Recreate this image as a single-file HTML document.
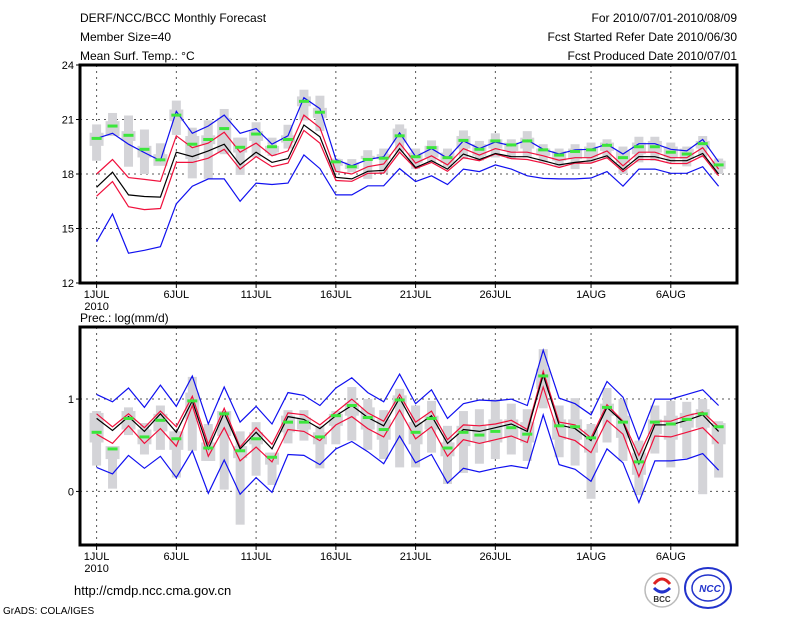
<!DOCTYPE html>
<html><head><meta charset="utf-8">
<style>
html,body{margin:0;padding:0;background:#fff;}
svg{display:block;font-family:"Liberation Sans",sans-serif;}
</style></head>
<body>
<svg id="chart" width="800" height="618" viewBox="0 0 800 618" xmlns="http://www.w3.org/2000/svg">
<rect x="0" y="0" width="800" height="618" fill="#fff"/>
<g font-size="12" fill="#000">
<text x="80" y="22">DERF/NCC/BCC Monthly Forecast</text>
<text x="80" y="41">Member Size=40</text>
<text x="80" y="60">Mean Surf. Temp.: °C</text>
<text x="737" y="22" text-anchor="end">For 2010/07/01-2010/08/09</text>
<text x="737" y="41" text-anchor="end">Fcst Started Refer Date 2010/06/30</text>
<text x="737" y="60" text-anchor="end">Fcst Produced Date 2010/07/01</text>
<text x="80" y="322">Prec.: log(mm/d)</text>
<text x="74" y="595" font-size="13">http://cmdp.ncc.cma.gov.cn</text>
<text x="3" y="614" font-size="10">GrADS: COLA/IGES</text>
</g>
<g>
<circle cx="662" cy="590" r="17" fill="#fff" stroke="#bbb" stroke-width="1.5"/>
<path d="M654 584 q8 -10 16 0" fill="none" stroke="#d22" stroke-width="3"/>
<path d="M654 588 q8 8 16 0" fill="none" stroke="#23c" stroke-width="3"/>
<text x="662" y="602" font-size="8" font-weight="bold" text-anchor="middle" fill="#333">BCC</text>
</g>
<g>
<ellipse cx="708" cy="588" rx="23" ry="20" fill="#fff" stroke="#23c" stroke-width="2"/>
<ellipse cx="708" cy="588" rx="16" ry="13" fill="none" stroke="#23c" stroke-width="1.5"/>
<text x="710" y="592" font-size="10" font-weight="bold" font-style="italic" text-anchor="middle" fill="#23c">NCC</text>
</g>
<g id="plots"></g>
</svg>
<script>
// ---- temperature panel data (deg C), day 0 = 1 JUL ----
const tBlueHi=[19.96,20.24,19.64,19.18,18.73,21.45,20.24,20.64,21.24,20.24,20.5,19.64,20.1,22.2,21.6,18.8,18.45,18.8,18.95,20.27,18.96,19.4,18.87,19.82,19.4,19.76,19.55,19.87,19.36,19.1,19.33,19.36,19.64,19.1,19.67,19.67,19.36,19.27,19.9,18.67];
const tRedHi=[18.0,18.8,17.8,17.7,17.6,20.1,19.45,19.7,20.3,19.2,19.7,19.0,19.27,21.24,20.55,18.15,18.0,18.4,18.55,19.7,18.6,19.0,18.5,19.4,19.04,19.4,19.2,19.2,19.0,18.76,18.9,18.9,19.27,18.45,19.2,19.2,18.9,18.9,19.45,18.27];
const tMean=[17.27,18.1,16.85,16.76,16.73,19.2,18.96,19.27,19.64,18.5,19.2,18.64,18.85,20.7,20.05,17.82,17.73,18.15,18.2,19.4,18.36,18.73,18.27,19.1,18.8,19.13,18.96,18.95,18.73,18.5,18.64,18.73,19.0,18.24,18.96,18.95,18.73,18.73,19.13,18.0];
const tRedLo=[16.78,17.58,16.2,16.04,16.1,18.64,18.64,18.87,19.36,18.27,18.96,18.4,18.6,20.4,19.7,17.64,17.6,18.04,18.05,19.2,18.3,18.64,18.15,18.9,18.73,19.1,18.85,18.8,18.6,18.36,18.6,18.6,18.9,18.13,18.8,18.8,18.58,18.58,19.0,17.9];
const tBlueLo=[14.27,15.8,13.64,13.8,14.0,16.36,17.33,17.73,17.73,16.5,17.5,17.42,17.5,19.05,18.3,16.85,16.85,17.35,17.35,18.3,17.58,17.9,17.42,18.27,18.13,18.5,18.27,17.9,17.76,17.73,17.73,17.78,18.13,17.33,18.27,18.27,18.04,18.04,18.4,17.33];
const tObs=[19.96,20.64,20.13,19.36,18.78,21.24,19.64,19.9,20.5,19.47,20.2,19.5,19.9,22.0,21.4,18.67,18.4,18.8,18.87,20.1,18.95,19.45,18.9,19.85,19.36,19.82,19.6,19.82,19.33,19.04,19.24,19.33,19.58,18.9,19.5,19.5,19.2,19.1,19.67,18.5];
const tMax=[20.73,21.36,21.22,20.45,19.69,22.04,20.55,20.96,21.58,20.0,20.85,20.0,20.71,22.64,22.31,18.85,18.82,19.31,19.4,20.73,19.4,19.85,19.4,20.4,19.82,20.24,19.91,20.36,19.64,19.4,19.64,19.73,19.91,19.51,20.05,20.05,19.73,19.51,20.09,18.85];
const tMin=[18.73,20.13,18.4,18.0,18.49,20.15,17.76,17.73,19.09,17.95,18.91,19.0,19.4,20.95,20.36,18.09,18.09,17.73,18.04,19.18,18.27,18.64,18.36,18.82,18.73,18.91,18.82,18.91,18.64,18.42,18.27,18.64,18.82,18.0,18.64,18.73,18.64,18.42,18.91,18.0];
const tQ3=[20.27,20.91,20.36,19.55,19.09,21.55,20.09,20.13,21.09,20.0,20.36,19.55,20.13,22.27,21.64,18.82,18.64,19.0,19.09,20.5,19.18,19.55,19.18,20.09,19.64,19.91,19.73,20.0,19.4,19.27,19.4,19.51,19.73,19.27,19.73,19.82,19.51,19.4,19.82,18.73];
const tQ1=[19.55,20.09,19.82,18.91,18.45,20.91,18.82,19.64,19.18,19.18,19.82,19.18,19.73,21.73,21.09,18.45,18.27,18.82,18.82,19.73,18.6,18.91,18.6,19.4,19.0,19.4,19.27,19.4,19.0,18.73,18.82,18.91,19.27,18.6,19.09,19.18,18.91,18.82,19.4,18.27];
const tTicks=[12,15,18,21,24];
// ---- precipitation panel data (log mm/d) ----
const pBlueHi=[1.05,0.97,1.12,0.91,1.15,0.92,1.25,0.73,1.13,0.75,0.92,0.73,1.07,1.04,0.93,1.12,1.23,1.07,0.97,1.27,0.95,1.10,0.79,0.95,0.99,0.98,1.0,0.93,1.53,1.01,0.95,0.83,1.19,1.02,0.56,1.0,1.0,1.05,1.10,0.93];
const pRedHi=[0.84,0.70,0.84,0.69,0.87,0.70,1.03,0.51,0.90,0.48,0.69,0.51,0.85,0.83,0.72,0.86,1.0,0.85,0.76,1.05,0.75,0.87,0.56,0.72,0.71,0.73,0.77,0.67,1.30,0.75,0.72,0.58,0.94,0.76,0.39,0.76,0.76,0.82,0.86,0.70];
const pMean=[0.79,0.66,0.81,0.65,0.84,0.64,0.98,0.46,0.85,0.46,0.64,0.46,0.81,0.78,0.68,0.82,0.93,0.80,0.71,1.01,0.70,0.82,0.52,0.67,0.65,0.69,0.73,0.65,1.26,0.72,0.68,0.55,0.91,0.75,0.30,0.72,0.72,0.77,0.83,0.65];
const pRedLo=[0.62,0.52,0.71,0.52,0.68,0.49,0.93,0.38,0.69,0.33,0.48,0.32,0.67,0.65,0.55,0.72,0.81,0.68,0.59,0.88,0.57,0.70,0.38,0.56,0.52,0.56,0.60,0.53,1.13,0.60,0.55,0.42,0.77,0.62,0.16,0.60,0.59,0.64,0.69,0.52];
const pBlueLo=[0.26,0.19,0.39,0.25,0.38,0.15,0.44,-0.02,0.34,-0.03,0.15,-0.01,0.40,0.39,0.29,0.46,0.54,0.43,0.30,0.60,0.31,0.40,0.09,0.25,0.21,0.25,0.28,0.25,0.83,0.29,0.24,0.11,0.46,0.31,-0.12,0.33,0.33,0.35,0.41,0.23];
const pObs=[0.64,0.46,0.79,0.59,0.77,0.57,0.98,0.47,0.84,0.44,0.57,0.37,0.75,0.75,0.59,0.82,0.93,0.80,0.67,0.99,0.64,0.79,0.47,0.64,0.61,0.65,0.69,0.62,1.25,0.71,0.70,0.58,0.91,0.75,0.32,0.75,0.73,0.78,0.84,0.70];
const pMax=[0.87,0.49,0.91,0.74,0.93,0.65,1.24,0.73,0.87,0.65,0.75,0.42,0.88,0.88,0.71,0.87,1.13,1.0,0.88,1.11,0.93,0.98,0.71,0.87,0.89,1.0,0.95,0.89,1.54,0.93,1.01,0.73,1.12,1.0,0.55,0.93,0.98,0.97,1.0,0.76];
const pMin=[0.28,0.03,0.61,0.40,0.45,0.15,0.44,0.33,0.02,-0.36,0.17,0.07,0.52,0.55,0.25,0.51,0.55,0.45,0.35,0.26,0.26,0.42,0.08,0.20,0.30,0.35,0.40,0.33,0.90,0.37,0.28,-0.08,0.53,0.33,-0.04,0.41,0.26,0.36,-0.03,0.15];
const pQ3=[0.85,0.49,0.87,0.67,0.84,0.65,1.07,0.53,0.87,0.49,0.64,0.42,0.82,0.80,0.64,0.84,0.96,0.91,0.78,1.04,0.75,0.82,0.53,0.71,0.71,0.78,0.78,0.75,1.33,0.78,0.78,0.67,0.95,0.82,0.42,0.78,0.82,0.85,0.89,0.74];
const pQ1=[0.53,0.35,0.67,0.51,0.65,0.45,0.78,0.33,0.60,0.36,0.51,0.29,0.64,0.67,0.51,0.71,0.82,0.67,0.56,0.93,0.51,0.67,0.38,0.49,0.53,0.53,0.58,0.53,1.11,0.56,0.56,0.42,0.82,0.58,0.18,0.62,0.56,0.69,0.69,0.51];
const pTicks=[0,1];
const dateLabels=["1JUL","6JUL","11JUL","16JUL","21JUL","26JUL","1AUG","6AUG"];
const dateDays=[0,5,10,15,20,25,31,36];

const NS="http://www.w3.org/2000/svg";
const root=document.getElementById('plots');
const FX0=80,FX1=737;
const xDay=d=>96.6+d*15.95;
function mk(tag,attrs,parent){const e=document.createElementNS(NS,tag);for(const k in attrs)e.setAttribute(k,attrs[k]);(parent||root).appendChild(e);return e;}

function panel(name,top,bot,vTop,vBot,ticks,S){
  const yv=v=>top+(vTop-v)*(bot-top)/(vTop-vBot);
  const g=mk('g',{});
  
  
  // grid
  dateDays.forEach((d,i)=>{
    const l=mk('line',{x1:xDay(d),x2:xDay(d),y1:top,y2:bot,stroke:'#555','stroke-width':1,'stroke-dasharray':'2,4'},g);
    
    
    const tk=mk('line',{x1:xDay(d),x2:xDay(d),y1:bot,y2:bot+5,stroke:'#000'},g);
    
    
    const t=mk('text',{x:xDay(d),y:bot+15,'font-size':11,'text-anchor':'middle'},g);
    t.textContent=dateLabels[i];
    
    
  });
  const yr=mk('text',{x:xDay(0),y:bot+27,'font-size':11,'text-anchor':'middle'},g);
  yr.textContent='2010';
  
  
  ticks.forEach(v=>{
    const y=yv(v);
    if(y>top+2&&y<bot-2){
      const l=mk('line',{x1:FX0,x2:FX1,y1:y,y2:y,stroke:'#555','stroke-width':1,'stroke-dasharray':'2,4'},g);
      
      
    }
    const tk=mk('line',{x1:FX0-4,x2:FX0,y1:y,y2:y,stroke:'#000'},g);
    
    
    const t=mk('text',{x:FX0-6,y:y+4,'font-size':11,'text-anchor':'end'},g);
    t.textContent=String(v);
    
    
  });
  // boxes
  S.max.forEach((mx,d)=>{
    const x=xDay(d);
    const r1=mk('rect',{x:x-4.5,width:9,y:yv(mx),height:Math.max(1,yv(S.min[d])-yv(mx)),fill:'#d4d4d8'},g);
    
    
    const r2=mk('rect',{x:x-7,width:14,y:yv(S.q3[d]),height:Math.max(1,yv(S.q1[d])-yv(S.q3[d])),fill:'#d4d4d8'},g);
    
    
  });
  const line=(arr,col,nm)=>{
    const p=mk('polyline',{points:arr.map((v,d)=>xDay(d).toFixed(1)+','+yv(v).toFixed(1)).join(' '),fill:'none',stroke:col,'stroke-width':1.2},g);
    
    
  };
  line(S.blo,'#1010f0',name+'-lower-blue-line');
  line(S.bhi,'#1010f0',name+'-upper-blue-line');
  line(S.rlo,'#f0103c',name+'-lower-red-line');
  line(S.rhi,'#f0103c',name+'-upper-red-line');
  line(S.mean,'#000',name+'-ensemble-mean-line');
  S.obs.forEach((v,d)=>{
    const r=mk('rect',{x:xDay(d)-5,width:10,y:yv(v)-1.5,height:3,fill:'#3ce63c'},g);
    
    
  });
  const f=mk('rect',{x:FX0,y:top,width:FX1-FX0,height:bot-top,fill:'none',stroke:'#000','stroke-width':3},g);
  
  
}
panel('temperature',65,283,24,12,tTicks,{max:tMax,min:tMin,q3:tQ3,q1:tQ1,bhi:tBlueHi,rhi:tRedHi,mean:tMean,rlo:tRedLo,blo:tBlueLo,obs:tObs});
panel('precipitation',327,545,1.78,-0.58,pTicks,{max:pMax,min:pMin,q3:pQ3,q1:pQ1,bhi:pBlueHi,rhi:pRedHi,mean:pMean,rlo:pRedLo,blo:pBlueLo,obs:pObs});
</script>
</body></html>
